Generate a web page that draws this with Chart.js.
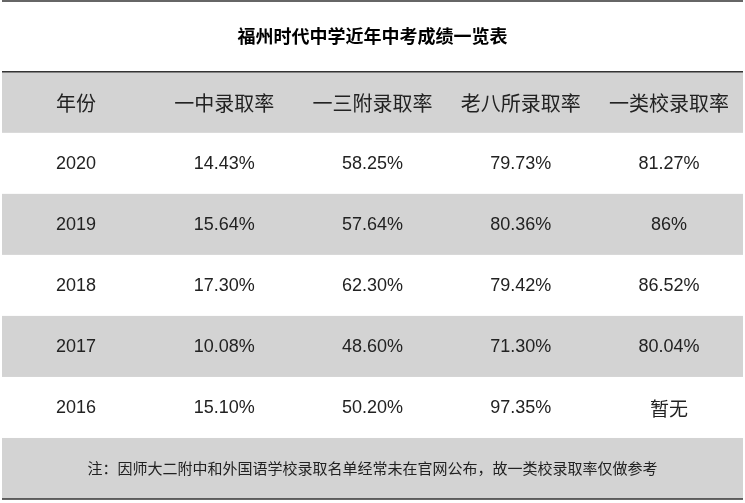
<!DOCTYPE html>
<html><head><meta charset="utf-8">
<script src="https://cdn.jsdelivr.net/npm/chart.js@4/dist/chart.umd.min.js"></script>
<style>html,body{margin:0;padding:0;background:#fff}#c{width:745px;height:503px}</style>
</head><body><div id="c"><canvas id="cv"></canvas></div>
<script>
const title = "福州时代中学近年中考成绩一览表";
const headers = ["年份","一中录取率","一三附录取率","老八所录取率","一类校录取率"];
const years = ["2020","2019","2018","2017","2016"];
const yizhong = ["14.43%","15.64%","17.30%","10.08%","15.10%"];
const yisanfu = ["58.25%","57.64%","62.30%","48.60%","50.20%"];
const laobasuo = ["79.73%","80.36%","79.42%","71.30%","97.35%"];
const yileixiao = ["81.27%","86%","86.52%","80.04%","暂无"];
const note = "注：因师大二附中和外国语学校录取名单经常未在官网公布，故一类校录取率仅做参考";

const rows = [headers].concat(years.map((y,i)=>[y,yizhong[i],yisanfu[i],laobasuo[i],yileixiao[i]]));
// grid units: x columns 0..5, y: title band -1.16..0, rows 0..7
const tablePlugin = {
  id:'table',
  afterDraw(chart){
    const ctx=chart.ctx, xs=chart.scales.x, ys=chart.scales.y;
    const X=v=>xs.getPixelForValue(v), Y=v=>ys.getPixelForValue(v);
    ctx.save();
    ctx.textAlign='center'; ctx.textBaseline='middle';
    // shaded rows
    [0,2,4,6].forEach(r=>{ctx.fillStyle='#d3d3d3';ctx.fillRect(X(0),Y(r),X(5)-X(0),Y(r+1)-Y(r));});
    // title
    ctx.fillStyle='#000'; ctx.font='bold 18px "Noto Sans CJK SC", sans-serif';
    ctx.fillText(title,(X(0)+X(5))/2,(Y(-1.16)+Y(0))/2);
    rows.forEach((row,r)=>{
      ctx.font = r===0 ? '20px "Noto Sans CJK SC", sans-serif' : '18px "Liberation Sans Narrow","Liberation Sans","Noto Sans CJK SC", sans-serif';
      ctx.fillStyle='#222';
      row.forEach((t,c)=>{
        const f = /[\u4e00-\u9fff]/.test(t) ? (r===0?'20px':'19px')+' "Noto Sans CJK SC", sans-serif' : '18px "Liberation Sans", sans-serif';
        ctx.font=f;
        ctx.fillText(t,(X(c)+X(c+1))/2,(Y(r)+Y(r+1))/2+1);
      });
    });
    ctx.font='15px "Noto Sans CJK SC", sans-serif'; ctx.fillStyle='#222';
    ctx.fillText(note,(X(0)+X(5))/2,(Y(6)+Y(7))/2);
    // lines
    ctx.strokeStyle='#333'; ctx.lineWidth=1.5;
    [-1.16,0,7].forEach(v=>{ctx.beginPath();ctx.moveTo(X(0),Y(v));ctx.lineTo(X(5),Y(v));ctx.stroke();});
    ctx.restore();
  }
};
new Chart(document.getElementById('cv'),{
  type:'scatter',
  data:{datasets:[{data:[],pointRadius:0}]},
  options:{
    responsive:true, maintainAspectRatio:false, animation:false,
    layout:{padding:{left:2,right:2,top:1,bottom:4}},
    plugins:{legend:{display:false},tooltip:{enabled:false}},
    scales:{
      x:{type:'linear',min:0,max:5,display:false},
      y:{type:'linear',min:-1.16,max:7,reverse:true,display:false}
    }
  },
  plugins:[tablePlugin]
});
</script></body></html>
